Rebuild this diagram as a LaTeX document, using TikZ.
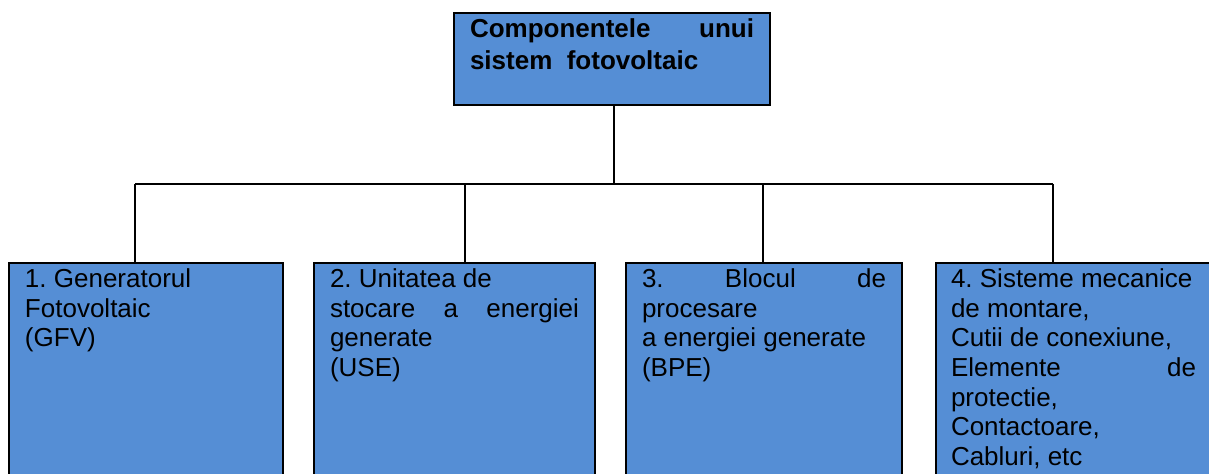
\documentclass[tikz,border=0pt]{standalone}
\usepackage{fontspec}
\setmainfont{Liberation Sans}
\usepackage{xcolor}
\usetikzlibrary{calc}

\definecolor{boxblue}{HTML}{558ED5}
\frenchspacing

\begin{document}
\begin{tikzpicture}[x=0.5pt, y=0.5pt,
  box/.style={draw=black, line width=1pt, fill=boxblue, anchor=north west,
    inner xsep=8pt, inner ysep=2.25pt, align=flush left,
    text height=10pt, font=\fontsize{13}{14.85}\selectfont},
  link/.style={draw=black, line width=0.8pt}]

% === Drawing region ===
\useasboundingbox (0,0) rectangle (1209,-474);
\clip (0,0) rectangle (1209,-474);

% === Title box ===
\node[box, text width=142pt, text depth=31.5pt,
  font=\fontsize{13}{16}\selectfont\bfseries] (title) at (453,-12)
  {Componentele\hfill unui\\ sistem\ \ fotovoltaic};

% === Component boxes ===
\node[box, text width=121pt, text depth=120pt] (gfv) at (8,-262)
  {1. Generatorul\\ Fotovoltaic\\ (GFV)};
\node[box, text width=124.5pt, text depth=120pt] (use) at (313,-262)
  {2. Unitatea de\\ stocare\hfill a\hfill energiei\\ generate\\ (USE)};
\node[box, text width=122pt, text depth=120pt] (bpe) at (625,-262)
  {3.\hfill Blocul\hfill de\\ procesare\\ a energiei generate\\ (BPE)};
\node[box, text width=122.5pt, inner xsep=7.5pt, text depth=120pt] (misc) at (935,-262)
  {4. Sisteme mecanice\\ de montare,\\ Cutii de conexiune,\\ Elemente\hfill de\\ protectie,\\ Contactoare,\\ Cabluri, etc};

% === Bus ===
\coordinate (d1) at (135,-184);
\coordinate (d2) at (465,-184);
\coordinate (d3) at (763,-184);
\coordinate (d4) at (1053,-184);
\coordinate (dtop) at (614,-184);

\draw[link] (dtop |- title.south) -- (dtop);
\draw[link] (d1) -- (d4);
\draw[link] (d1) -- (d1 |- gfv.north);
\draw[link] (d2) -- (d2 |- use.north);
\draw[link] (d3) -- (d3 |- bpe.north);
\draw[link] (d4) -- (d4 |- misc.north);

\end{tikzpicture}
\end{document}
